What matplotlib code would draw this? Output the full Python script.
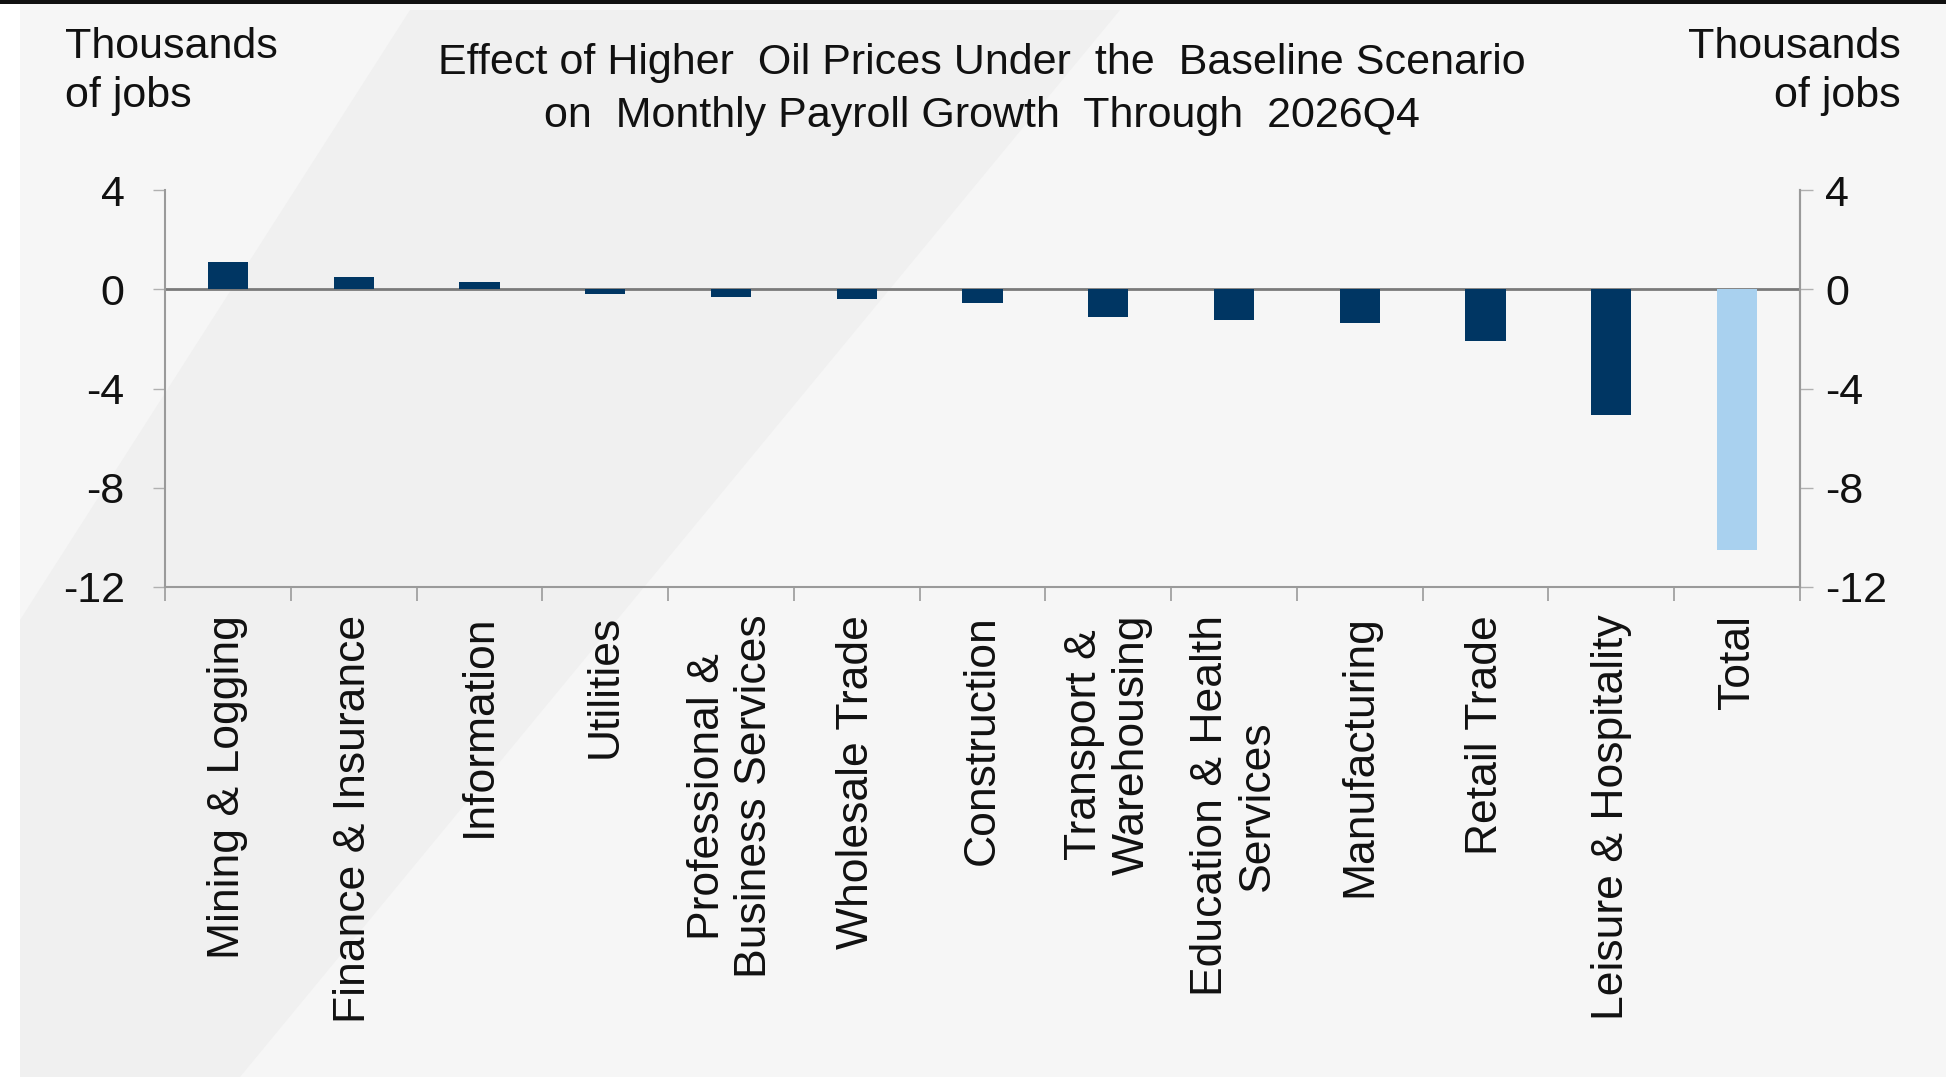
import matplotlib.pyplot as plt
from matplotlib.patches import Polygon, Rectangle
import numpy as np

categories = ['Mining & Logging', 'Finance & Insurance', 'Information', 'Utilities',
              'Professional &\nBusiness Services', 'Wholesale Trade', 'Construction',
              'Transport &\nWarehousing', 'Education & Health\nServices', 'Manufacturing',
              'Retail Trade', 'Leisure & Hospitality', 'Total']
values = [1.1, 0.5, 0.3, -0.2, -0.3, -0.4, -0.55, -1.1, -1.25, -1.35, -2.1, -5.05, -10.5]
yticks = [4, 0, -4, -8, -12]

dark = '#003663'
light = '#a9d1ef'
colors = [dark] * (len(values) - 1) + [light]

plt.rcParams['font.family'] = ['Liberation Sans', 'DejaVu Sans']

W, H = 1946, 1082
fig = plt.figure(figsize=(W / 100, H / 100), dpi=100)
fig.patch.set_facecolor('#f6f6f6')


def px(x, y):
    return (x / W, 1 - y / H)


# background: faint darker diagonal band, white margins, black top line
band = Polygon([px(410, 10), px(1120, 10), px(240, 1077), px(20, 1077), px(20, 620)],
               closed=True, transform=fig.transFigure, facecolor='#f0f0f0', edgecolor='none', zorder=-5)
fig.patches.append(band)
fig.patches.append(Rectangle((0, 0), 20 / W, 1, transform=fig.transFigure,
                             facecolor='white', edgecolor='none', zorder=-4))
fig.patches.append(Rectangle((0, 0), 1, 5 / H, transform=fig.transFigure,
                             facecolor='white', edgecolor='none', zorder=-4))
fig.patches.append(Rectangle((0, 1 - 4 / H), 1, 4 / H, transform=fig.transFigure,
                             facecolor='#111111', edgecolor='none', zorder=-4))

ax = fig.add_axes([165 / W, 1 - 587 / H, 1635 / W, 397 / H])
ax.patch.set_alpha(0)

x = np.arange(len(categories))
ax.bar(x, values, width=0.32, color=colors, zorder=3)
ax.axhline(0, color='#7a7a7a', lw=2, zorder=2)

ax.set_xlim(-0.5, len(categories) - 0.5)
ax.set_ylim(-12, 4)

ax.spines['top'].set_visible(False)
for s in ['left', 'right', 'bottom']:
    ax.spines[s].set_color('#9a9a9a')
    ax.spines[s].set_linewidth(1.5)

ax.set_yticks(yticks)
ax.set_yticklabels([str(v) for v in yticks])
ax.tick_params(axis='y', which='major', length=9, width=1, color='#b0b0b0',
               labelsize=31, pad=20, labelcolor='#111111')

ax2 = ax.twinx()
ax2.set_ylim(-12, 4)
ax2.set_yticks(yticks)
ax2.set_yticklabels([str(v) for v in yticks])
for s in ['top', 'left', 'bottom']:
    ax2.spines[s].set_visible(False)
ax2.spines['right'].set_color('#9a9a9a')
ax2.spines['right'].set_linewidth(1.5)
ax2.tick_params(axis='y', which='major', length=9, width=1, color='#b0b0b0',
                labelsize=31, pad=9, labelcolor='#111111')

ax.set_xticks(x)
ax.set_xticklabels(categories, rotation=90, multialignment='center')
ax.tick_params(axis='x', which='major', length=0, labelsize=32, pad=20, labelcolor='#111111')
ax.set_xticks(np.arange(len(categories) + 1) - 0.5, minor=True)
ax.tick_params(axis='x', which='minor', length=10, width=1.2, color='#9a9a9a')

fig.text(982 / W, 1 - 43 / H,
         'Effect of Higher  Oil Prices Under  the  Baseline Scenario\non  Monthly Payroll Growth  Through  2026Q4',
         ha='center', va='top', fontsize=31, color='#111111', linespacing=1.42)
fig.text(65 / W, 1 - 27 / H, 'Thousands\nof jobs', ha='left', va='top', fontsize=31,
         color='#111111', linespacing=1.3)
fig.text(1901 / W, 1 - 27 / H, 'Thousands\nof jobs', ha='right', va='top', fontsize=31,
         color='#111111', linespacing=1.3, multialignment='right')

fig.savefig('out.png', dpi=100, facecolor=fig.get_facecolor())
